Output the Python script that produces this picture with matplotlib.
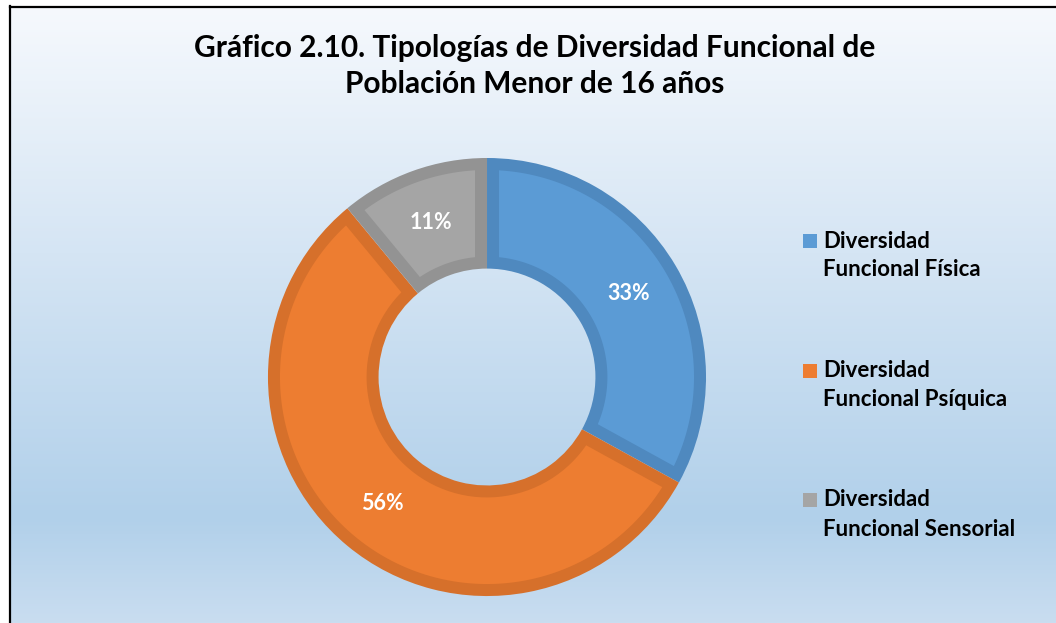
import numpy as np
import matplotlib

matplotlib.use("Agg")
import matplotlib.pyplot as plt
from matplotlib.colors import LinearSegmentedColormap
from matplotlib.patches import Rectangle, Polygon

W, H = 1056, 623
FONT = "Lato"

# data
categories = ["Diversidad\nFuncional Física", "Diversidad\nFuncional Psíquica", "Diversidad\nFuncional Sensorial"]
values = [33, 56, 11]
fill_colors = ["#5b9bd5", "#ed7d31", "#a5a5a5"]
edge_colors = ["#4f89bf", "#d6702b", "#939393"]
explode = [0.012, 0.055, 0.012]

title = "Gráfico 2.10. Tipologías de Diversidad Funcional de\nPoblación Menor de 16 años"

BAND = 12  # px, darker outline drawn inside each slice


def inset_polygon(w, b):
    # region of the annular sector that lies at least b px inside its border
    cx, cy = w.center
    ro, ri = w.r - b, w.r - w.width + b
    a_o = np.degrees(np.arcsin(b / ro))
    a_i = np.degrees(np.arcsin(b / ri))
    t_out = np.radians(np.linspace(w.theta1 + a_o, w.theta2 - a_o, 120))
    t_in = np.radians(np.linspace(w.theta2 - a_i, w.theta1 + a_i, 60))
    xs = np.concatenate([cx + ro * np.cos(t_out), cx + ri * np.cos(t_in)])
    ys = np.concatenate([cy + ro * np.sin(t_out), cy + ri * np.sin(t_in)])
    return np.column_stack([xs, ys])


fig = plt.figure(figsize=(W / 100, H / 100), dpi=100)
ax = fig.add_axes([0, 0, 1, 1])

# background gradient (bottom light blue -> top almost white)
bg = LinearSegmentedColormap.from_list(
    "bg",
    [(0.0, "#c9ddf0"), (0.17, "#b1d0ea"), (0.6, "#d5e5f4"), (1.0, "#f6f9fd")],
)
grad = np.linspace(0, 1, 256).reshape(-1, 1)
ax.imshow(grad, cmap=bg, extent=(9, W, 0, H - 6), origin="lower", aspect="auto", zorder=0)
# frame lines (left + top)
ax.plot([9.5, 9.5], [0, H - 6], color="black", lw=1.6, zorder=1)
ax.plot([9.5, W], [H - 6.5, H - 6.5], color="black", lw=1.6, zorder=1)

cx, cy, R = 487, H - 377, 219
wedges, texts, autotexts = ax.pie(
    values,
    colors=edge_colors,
    explode=explode,
    startangle=90,
    counterclock=False,
    center=(cx, cy),
    radius=R,
    autopct="%1.0f%%",
    pctdistance=0.75,
    wedgeprops=dict(width=R * 0.505, linewidth=0),
    textprops=dict(color="white", fontsize=15.5, fontweight="bold", family=FONT),
    frame=True,
)
for w, fc in zip(wedges, fill_colors):
    w.set_zorder(2)
    ax.add_patch(Polygon(inset_polygon(w, BAND), closed=True, facecolor=fc,
                         edgecolor="none", zorder=2.5))
for t in autotexts:
    t.set_zorder(3)

ax.set_xlim(0, W)
ax.set_ylim(0, H)
ax.set_aspect("auto")
ax.axis("off")

for k, line in enumerate(title.split("\n")):
    ax.text(535, H - (48 + 36 * k), line, ha="center", va="center", fontsize=21.5,
            fontweight="bold", family=FONT, color="black")

# legend: square aligned with the first line of each two-line label
for i, lab in enumerate(categories):
    y = 241 + i * 129.5
    ax.add_patch(Rectangle((803, H - y - 7), 14, 14, facecolor=fill_colors[i],
                           edgecolor="none", zorder=3))
    for k, line in enumerate(lab.split("\n")):
        ax.text(823, H - (y + 29 * k), line, ha="left", va="center", fontsize=16,
                fontweight="bold", family=FONT, color="black")

fig.savefig("out.png", dpi=100)
